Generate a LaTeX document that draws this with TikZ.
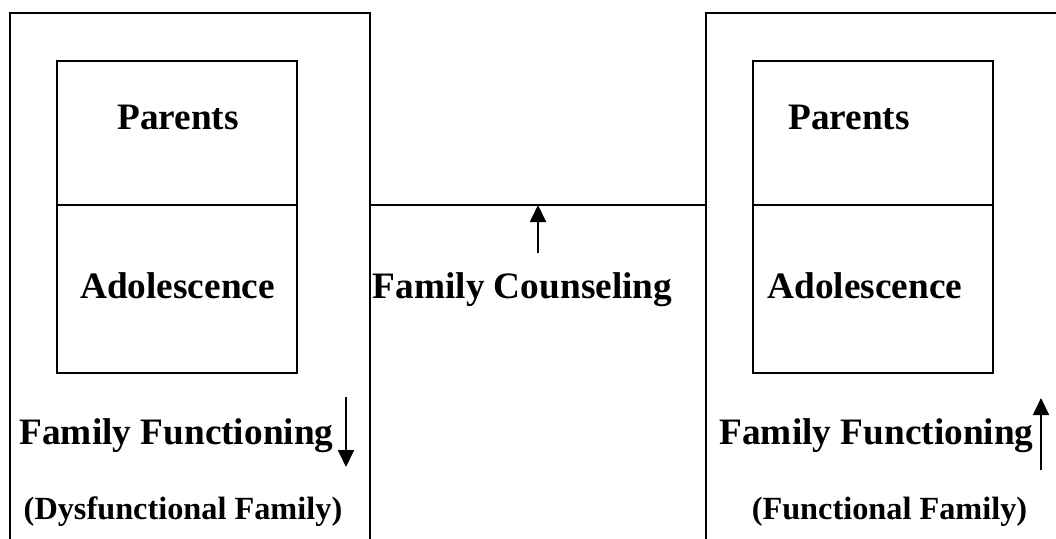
\documentclass[tikz,border=0pt]{standalone}
\usepackage{fontspec}
\setmainfont{Liberation Serif}
\usetikzlibrary{arrows.meta}
\tikzset{
  frame/.style={draw, line width=1.8pt, rectangle, inner sep=0pt, outer sep=0pt},
  inbox/.style={draw, line width=1.8pt, rectangle, inner sep=0pt, outer sep=0pt, minimum width=240pt},
  bigtxt/.style={inner sep=0pt, anchor=base, font=\bfseries\fontsize{37.3}{40}\selectfont},
  smalltxt/.style={inner sep=0pt, anchor=base, font=\bfseries\fontsize{32.3}{34}\selectfont},
  conn/.style={line width=1.8pt},
  arr/.style={line width=1.8pt, -{Triangle[length=17pt,width=16pt]}}
}
\begin{document}
\begin{tikzpicture}[x=1pt,y=-1pt]
\useasboundingbox (0,0) rectangle (1056,538);
\clip (0,0) rectangle (1056,538);
% outer frames
\node[frame, minimum width=360pt, minimum height=587pt, anchor=north west] (outL) at (10,13) {};
\node[frame, minimum width=400pt, minimum height=587pt, anchor=north west] (outR) at (706,13) {};
% inner boxes
\node[inbox, minimum height=144pt] (parL) at (177,133) {};
\node[inbox, minimum height=168pt] (adoL) at (177,289) {};
\node[inbox, minimum height=144pt] (parR) at (873,133) {};
\node[inbox, minimum height=168pt] (adoR) at (873,289) {};
% texts
\node[bigtxt] (tParL) at (178,129) {Parents};
\node[bigtxt] (tAdoL) at (177.5,298) {Adolescence};
\node[bigtxt] (tFunL) at (176.5,444) {Family Functioning};
\node[smalltxt] (tDys) at (183,519) {(Dysfunctional Family)};
\node[bigtxt] (tParR) at (849,129) {Parents};
\node[bigtxt] (tAdoR) at (865,298) {Adolescence};
\node[bigtxt] (tFunR) at (876.5,444) {Family Functioning};
\node[smalltxt] (tFun) at (889.5,519) {(Functional Family)};
\node[bigtxt] (tCoun) at (522.5,298) {Family Counseling};
% connector
\draw[conn] (outL.east |- parL.south) -- (outR.west |- parL.south);
% arrows
\coordinate (cA) at (538,253);
\draw[arr] (cA) -- (cA |- parL.south);
\coordinate (dA1) at (346,397);
\coordinate (dA2) at (346,467);
\draw[arr] (dA1) -- (dA2);
\coordinate (uA1) at (1041,470);
\coordinate (uA2) at (1041,398);
\draw[arr] (uA1) -- (uA2);
\end{tikzpicture}
\end{document}
